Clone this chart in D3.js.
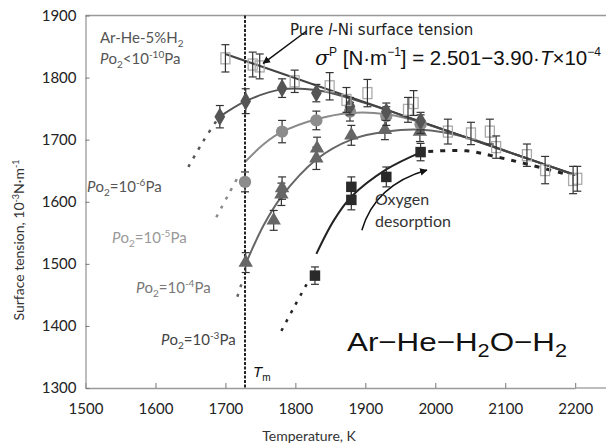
<!DOCTYPE html>
<html><head><meta charset="utf-8">
<script src="https://cdn.jsdelivr.net/npm/d3@7"></script>
<style>body{margin:0;background:#fff}svg{display:block}</style></head>
<body>
<script>
// ---- data ----
const xTicks = [1500,1600,1700,1800,1900,2000,2100,2200];
const yTicks = [1300,1400,1500,1600,1700,1800,1900];
const Tm = 1728;

// Ar-He-5%H2, Po2<1e-10 Pa (open squares)
const pureT   = [1700,1739,1749,1799,1849,1873,1903,1961,1969,2018,2051,2078,2087,2131,2157,2197,2203];
const pureS   = [1831,1821,1818,1794,1786,1764,1775,1748,1759,1713,1710,1713,1688,1675,1651,1635,1637];
const pureErr = [22,20,20,18,22,20,22,20,20,20,18,20,18,18,22,22,20];
// Po2 = 1e-6 Pa (diamonds)
const diaT   = [1692,1729,1781,1830,1878,1930,1979];
const diaS   = [1737,1762,1783,1775,1754,1745,1730];
const diaErr = [18,20,15,14,14,14,14];
// Po2 = 1e-5 Pa (circles)
const cirT   = [1728,1781,1830,1878,1930,1979];
const cirS   = [1632,1713,1731,1745,1738,1725];
const cirErr = [16,18,15,15,15,15];
// Po2 = 1e-4 Pa (triangles)
const triT   = [1729,1769,1780,1781,1830,1831,1880,1928,1978];
const triS   = [1502,1570,1612,1622,1670,1686,1707,1716,1713];
const triErr = [16,16,18,18,18,18,16,16,16];
// Po2 = 1e-3 Pa (filled squares)
const sqT   = [1828,1880,1880,1930,1979];
const sqS   = [1481,1603,1624,1640,1680];
const sqErr = [14,16,16,16,14];

// fitted curves
const pureFitT = [1700,2200], pureFitS = [1838,1643];
const diaFitT = [1692,1729,1780,1830,1880,1930,1980,2040,2120,2200];
const diaFitS = [1737,1762,1781,1780,1766,1748,1728,1705,1674,1643];
const diaDotT = [1647,1668,1690], diaDotS = [1656,1697,1735];
const cirFitT = [1728,1755,1780,1830,1880,1930,1980,2040,2120,2200];
const cirFitS = [1664,1693,1712,1733,1743,1741,1728,1705,1674,1643];
const cirDotT = [1687,1704,1721], cirDotS = [1575,1611,1646];
const triFitT = [1729,1755,1780,1830,1880,1930,1980,2040,2120,2200];
const triFitS = [1500,1563,1608,1668,1700,1713,1716,1705,1674,1643];
const triDotT = [1717,1726], triDotS = [1447,1478];
const sqFitT = [1830,1855,1880,1930,1980], sqFitS = [1516,1570,1608,1652,1680];
const sqDashT = [1990,2045,2085,2130,2185], sqDashS = [1681,1682,1673,1661,1645];
const sqDotT = [1780,1798,1816], sqDotS = [1392,1430,1467];

// annotation arrows (data units)
const arrowPureT = [1816,1754], arrowPureS = [1875,1823];
const arrowOxT = [1895,1914,1988], arrowOxS = [1554,1627,1651];

// ---- drawing ----
const W = 606, H = 444;
const svg = d3.select("body").append("svg").attr("width", W).attr("height", H);
const x = d3.scaleLinear().domain([1500,2200]).range([85.5,575.2]);
const y = d3.scaleLinear().domain([1300,1900]).range([388,15.5]);
const zip = (a,b) => a.map((v,i)=>[v,b[i]]);

const defs = svg.append("defs");
defs.append("marker").attr("id","ah").attr("viewBox","0 0 10 10").attr("refX",9).attr("refY",5)
  .attr("markerWidth",5).attr("markerHeight",5).attr("orient","auto")
  .append("path").attr("d","M0,0L10,5L0,10Z").attr("fill","#111");

// frame top
svg.append("line").attr("x1",x(1500)).attr("x2",W).attr("y1",y(1900)).attr("y2",y(1900))
  .attr("stroke","#999").attr("stroke-width",1.3);

const tickFont = "Lato, 'Open Sans', sans-serif";
const gx = svg.append("g").attr("transform",`translate(0,${y(1300)})`)
  .call(d3.axisBottom(x).tickValues(xTicks).tickFormat(d3.format("d")).tickSize(-5).tickSizeOuter(0).tickPadding(15));
gx.append("line").attr("x1",x(2200)).attr("x2",W).attr("stroke","#999").attr("stroke-width",1.3);
const gy = svg.append("g").attr("transform",`translate(${x(1500)},0)`)
  .call(d3.axisLeft(y).tickValues(yTicks).tickFormat(d3.format("d")).tickSize(-4).tickSizeOuter(0).tickPadding(9));
[gx,gy].forEach(g=>{
  g.select(".domain").attr("stroke","#999").attr("stroke-width",1.3);
  g.selectAll(".tick line").attr("stroke","#777");
  g.selectAll("text").attr("font-family",tickFont).attr("font-size",15).attr("fill","#222");
});

const line = d3.line().x(d=>x(d[0])).y(d=>y(d[1])).curve(d3.curveCatmullRom.alpha(0.5));
function curve(T,S,color,width,dash){
  svg.append("path").attr("d",line(zip(T,S))).attr("fill","none").attr("stroke",color)
    .attr("stroke-width",width).attr("stroke-dasharray",dash||null);
}
curve(sqFitT,sqFitS,"#222",2);
curve(sqDashT,sqDashS,"#222",3,"5,7");
curve(sqDotT,sqDotS,"#222",2.5,"3,7");
curve(triFitT,triFitS,"#666",2);
curve(triDotT,triDotS,"#666",2.5,"3,7");
curve(cirFitT,cirFitS,"#8a8a8a",2);
curve(cirDotT,cirDotS,"#8a8a8a",2.5,"3,7");
curve(diaFitT,diaFitS,"#555",2);
curve(diaDotT,diaDotS,"#555",2.5,"3,7");
curve(pureFitT,pureFitS,"#444",2);

// Tm line
svg.append("line").attr("x1",x(Tm)).attr("x2",x(Tm)).attr("y1",y(1900)).attr("y2",y(1300))
  .attr("stroke","#222").attr("stroke-width",2).attr("stroke-dasharray","3,1.5");

// error bars + markers
function errbars(T,S,E){
  const g = svg.append("g").attr("stroke","#333").attr("stroke-width",1.2);
  T.forEach((t,i)=>{
    const cx=x(t), y1=y(S[i]+E[i]), y2=y(S[i]-E[i]);
    g.append("line").attr("x1",cx).attr("x2",cx).attr("y1",y1).attr("y2",y2);
    g.append("line").attr("x1",cx-4).attr("x2",cx+4).attr("y1",y1).attr("y2",y1);
    g.append("line").attr("x1",cx-4).attr("x2",cx+4).attr("y1",y2).attr("y2",y2);
  });
}
function markers(T,S,type,size,fill,stroke){
  svg.append("g").selectAll("path").data(zip(T,S)).join("path")
    .attr("transform",d=>`translate(${x(d[0])},${y(d[1])})`)
    .attr("d",d3.symbol().type(type).size(size))
    .attr("fill",fill).attr("stroke",stroke||"none").attr("stroke-width",1.3);
}
errbars(sqT,sqS,sqErr);   markers(sqT,sqS,d3.symbolSquare,110,"#2a2a2a");
errbars(triT,triS,triErr); markers(triT,triS,d3.symbolTriangle,90,"#666");
errbars(cirT,cirS,cirErr); markers(cirT,cirS,d3.symbolCircle,120,"#8c8c8c");
errbars(diaT,diaS,diaErr); markers(diaT,diaS,d3.symbolDiamond,100,"#555");
// open rectangles
svg.append("g").selectAll("rect").data(zip(pureT,pureS)).join("rect")
  .attr("x",d=>x(d[0])-4.5).attr("y",d=>y(d[1])-5.5).attr("width",9).attr("height",11)
  .attr("fill","none").attr("stroke","#aaa").attr("stroke-width",1.3);
errbars(pureT,pureS,pureErr);

// arrows
svg.append("path").attr("d",d3.line()(zip(arrowPureT.map(x),arrowPureS.map(y))))
  .attr("stroke","#111").attr("stroke-width",1.5).attr("fill","none").attr("marker-end","url(#ah)");
const ox = arrowOxT.map(x), oy = arrowOxS.map(y);
svg.append("path").attr("d",`M${ox[0]},${oy[0]}Q${ox[1]},${oy[1]} ${ox[2]},${oy[2]}`)
  .attr("stroke","#111").attr("stroke-width",1.5).attr("fill","none").attr("marker-end","url(#ah)");

// ---- texts ----
const sans = "Lato, 'Open Sans', sans-serif";
function txt(xp,yp,size,color,family){
  return svg.append("text").attr("x",xp).attr("y",yp).attr("font-size",size).attr("fill",color)
    .attr("font-family",family||sans);
}
let t = txt(100,43,15,"#555"); t.append("tspan").text("Ar-He-5%H");
t.append("tspan").attr("dy",4).attr("font-size",10).text("2");
function po2(xp,yp,color,exp,rel){
  const t = txt(xp,yp,15,color);
  t.append("tspan").attr("font-style","italic").text("P");
  t.append("tspan").text("o");
  t.append("tspan").attr("dy",4).attr("font-size",10).text("2");
  t.append("tspan").attr("dy",-4).text(rel+"10");
  t.append("tspan").attr("dy",-6).attr("font-size",10).text(exp);
  t.append("tspan").attr("dy",6).text("Pa");
}
po2(100,64,"#555","-10","<");
po2(87,192,"#555","-6","=");
po2(112,243,"#999","-5","=");
po2(136,293,"#777","-4","=");
po2(161,345,"#444","-3","=");

t = txt(290,35,15,"#222","'DejaVu Sans', Verdana, sans-serif");
t.append("tspan").text("Pure ");
t.append("tspan").attr("font-style","italic").text("l");
t.append("tspan").text("-Ni surface tension");

const arial = "'Liberation Sans', Arial, sans-serif";
t = txt(315,65,20.5,"#111",arial);
t.append("tspan").attr("font-style","italic").attr("font-family","'DejaVu Serif', serif").text("σ");
t.append("tspan").attr("dy",-9).attr("font-size",12).text("P");
t.append("tspan").attr("dy",9).text(" [N·m");
t.append("tspan").attr("dy",-9).attr("font-size",12).text("−1");
t.append("tspan").attr("dy",9).text("] = 2.501−3.90·");
t.append("tspan").attr("font-style","italic").text("T");
t.append("tspan").text("×10");
t.append("tspan").attr("dy",-9).attr("font-size",12).text("−4");

t = txt(253,377,15,"#111",arial);
t.append("tspan").attr("font-style","italic").text("T");
t.append("tspan").attr("dy",4).attr("font-size",10).text("m");

t = txt(347,351,26,"#111",arial).attr("textLength",220).attr("lengthAdjust","spacingAndGlyphs");
t.append("tspan").text("Ar−He−H");
t.append("tspan").attr("dy",6).attr("font-size",18).text("2");
t.append("tspan").attr("dy",-6).text("O−H");
t.append("tspan").attr("dy",6).attr("font-size",18).text("2");

txt(375,205,16,"#333").text("Oxygen");
txt(375,227,16,"#333").text("desorption");

// axis titles
txt(309,441,14,"#333").attr("text-anchor","middle").text("Temperature, K");
t = svg.append("text").attr("transform","translate(24,240) rotate(-90)").attr("text-anchor","middle")
  .attr("font-size",14).attr("fill","#333").attr("font-family",sans);
t.append("tspan").text("Surface tension, 10");
t.append("tspan").attr("dy",-5).attr("font-size",9).text("-3");
t.append("tspan").attr("dy",5).text("N·m");
t.append("tspan").attr("dy",-5).attr("font-size",9).text("-1");
</script>
</body></html>
